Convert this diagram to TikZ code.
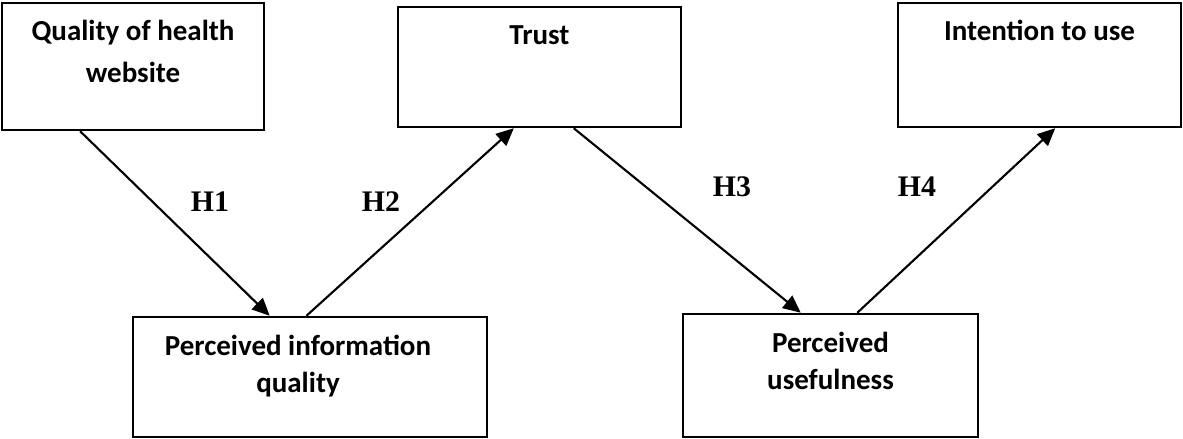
\documentclass[tikz,border=0pt]{standalone}
\usepackage{fontspec}
\setmainfont{Liberation Serif}
\newfontfamily\boxfont{Carlito}
\usetikzlibrary{arrows.meta, positioning, calc}
\tikzset{
    box/.style={draw, line width=1.4pt, rectangle, inner sep=0pt},
    boxtext/.style={font=\boxfont\bfseries\fontsize{16.5}{21}\selectfont, align=center, inner sep=0pt},
    hyp/.style={font=\bfseries\fontsize{17}{20}\selectfont, inner sep=0pt},
    link/.style={line width=1.2pt, -{Triangle[length=10pt, width=9pt]}}
}

\begin{document}
\begin{tikzpicture}[x=0.02cm, y=-0.02cm]
    \useasboundingbox (0,0) rectangle (1183,439);

    % constructs
    \node[box, minimum width=5.24cm, minimum height=2.54cm] (qual) at (133,66.5) {};
    \node[box, minimum width=5.66cm, minimum height=2.4cm] (trust) at (539.5,67) {};
    \node[box, minimum width=5.66cm, minimum height=2.48cm] (intent) at (1039.5,65) {};
    \node[box, minimum width=7.08cm, minimum height=2.4cm] (piq) at (310,377) {};
    \node[box, minimum width=5.9cm, minimum height=2.46cm] (pu) at (830.5,375.5) {};

    \node[boxtext, below=0.36cm of qual.north] (qualtxt) {Quality of health\\[3pt]website};
    \node[boxtext, below=0.4cm of trust.north] (trusttxt) {Trust};
    \node[boxtext, below=0.36cm of intent.north] (intenttxt) {Intention to use};
    \node[boxtext, below=0.38cm of piq.north, xshift=-0.24cm] (piqtxt) {Perceived information\\quality};
    \node[boxtext, below=0.38cm of pu.north] (putxt) {Perceived\\usefulness};

    % hypotheses
    \draw[link] ($(qual.south west)!0.30!(qual.south east)$) -- ($(piq.north west)!0.387!(piq.north east)$);
    \draw[link] ($(piq.north west)!0.49!(piq.north east)$) -- ($(trust.south west)!0.41!(trust.south east)$);
    \draw[link] ($(trust.south west)!0.62!(trust.south east)$) -- ($(pu.north west)!0.40!(pu.north east)$);
    \draw[link] ($(pu.north west)!0.59!(pu.north east)$) -- ($(intent.south west)!0.555!(intent.south east)$);

    \node[hyp] (h1) at (210,202) {H1};
    \node[hyp] (h2) at (381,202) {H2};
    \node[hyp] (h3) at (732,187) {H3};
    \node[hyp] (h4) at (917,187) {H4};
\end{tikzpicture}
\end{document}
